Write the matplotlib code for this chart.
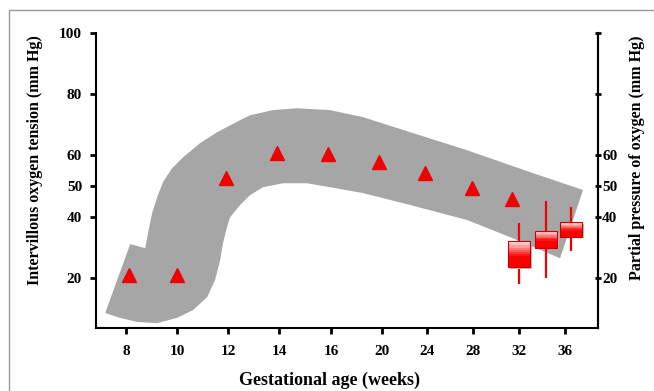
import numpy as np
import matplotlib

matplotlib.use("Agg")
import matplotlib.pyplot as plt
from matplotlib.patches import Rectangle

# --- data -------------------------------------------------------------------
WEEK_TICKS = [8, 10, 12, 14, 16, 20, 24, 28, 32, 36]
LEFT_TICKS = [20, 40, 50, 60, 80, 100]
RIGHT_TICKS = [20, 40, 50, 60, 80, 100]
RIGHT_LABELS = ["20", "40", "50", "60", "", ""]

# intervillous oxygen tension (triangles)
tri_weeks = [8.1, 10.0, 11.9, 13.9, 15.9, 19.8, 23.8, 27.9, 31.4]
tri_po2 = [21.0, 21.0, 52.6, 60.7, 60.6, 57.7, 54.3, 49.3, 45.9]

# partial pressure of oxygen (boxes + whiskers)
box_weeks = [32.0, 34.35, 36.55]
box_lo = [23.5, 29.9, 33.5]
box_hi = [32.0, 35.3, 38.2]
whisk_lo = [18.0, 19.9, 28.8]
whisk_hi = [37.9, 45.2, 43.2]

# grey band: upper/outer edge, then lower/inner edge back (weeks, mm Hg)
band_outer_weeks = [7.18, 8.16, 8.75, 8.86, 9.02, 9.22, 9.45, 9.80, 10.24,
                    10.90, 11.57, 12.47, 12.86, 13.76, 14.69, 15.96, 18.51,
                    22.49, 27.48, 33.22, 37.57]
band_outer_po2 = [8.5, 31.0, 29.7, 34.6, 41.1, 46.4, 51.3, 55.8, 59.4,
                  64.0, 67.6, 71.5, 73.1, 74.8, 75.4, 74.8, 72.5,
                  67.6, 61.7, 54.2, 48.7]
band_inner_weeks = [35.57, 31.22, 27.48, 22.49, 18.51, 15.96, 15.08, 14.15,
                    13.37, 12.86, 12.47, 12.08, 11.96, 11.80, 11.69, 11.49,
                    11.18, 10.63, 10.0, 9.22, 8.43, 7.76]
band_inner_po2 = [26.4, 33.3, 38.9, 43.8, 47.7, 49.6, 50.9, 50.9,
                  49.6, 47.0, 43.8, 39.8, 36.6, 31.3, 25.8, 19.3,
                  13.7, 9.5, 6.9, 5.2, 5.6, 6.9]

# tick spacing on the page (uneven in the original)
TICK_POS = [0, 51, 102, 153, 205, 256, 301, 347, 393, 439]
BOX_W = 1.9

RED = "#f00000"
FONT = "Liberation Serif"


def fwd(w):
    w = np.asarray(w, dtype=float)
    out = np.interp(w, WEEK_TICKS, TICK_POS)
    lo_slope = (TICK_POS[1] - TICK_POS[0]) / (WEEK_TICKS[1] - WEEK_TICKS[0])
    hi_slope = (TICK_POS[-1] - TICK_POS[-2]) / (WEEK_TICKS[-1] - WEEK_TICKS[-2])
    out = np.where(w < WEEK_TICKS[0], TICK_POS[0] + (w - WEEK_TICKS[0]) * lo_slope, out)
    out = np.where(w > WEEK_TICKS[-1], TICK_POS[-1] + (w - WEEK_TICKS[-1]) * hi_slope, out)
    return out


def inv(p):
    p = np.asarray(p, dtype=float)
    out = np.interp(p, TICK_POS, WEEK_TICKS)
    lo_slope = (WEEK_TICKS[1] - WEEK_TICKS[0]) / (TICK_POS[1] - TICK_POS[0])
    hi_slope = (WEEK_TICKS[-1] - WEEK_TICKS[-2]) / (TICK_POS[-1] - TICK_POS[-2])
    out = np.where(p < TICK_POS[0], WEEK_TICKS[0] + (p - TICK_POS[0]) * lo_slope, out)
    out = np.where(p > TICK_POS[-1], WEEK_TICKS[-1] + (p - TICK_POS[-1]) * hi_slope, out)
    return out


plt.rcParams["font.family"] = [FONT, "DejaVu Serif"]
plt.rcParams["font.weight"] = "bold"

fig = plt.figure(figsize=(6.54, 3.91), dpi=100)
ax = fig.add_axes([0.1468, 0.1611, 0.7676, 0.7545])
ax.set_xscale("function", functions=(fwd, inv))
ax.set_xlim(6.82, 38.87)
ax.set_ylim(3.6, 100)

# band
ax.fill(band_outer_weeks + band_inner_weeks, band_outer_po2 + band_inner_po2,
        color="#a6a6a6", lw=0, zorder=1)

# triangles
ax.plot(tri_weeks, tri_po2, "^", color=RED, ms=10, mec=RED, zorder=3)

# boxes with whiskers
for x, lo, hi, wl, wh in zip(box_weeks, box_lo, box_hi, whisk_lo, whisk_hi):
    ax.plot([x, x], [wl, wh], color=RED, lw=1.6, zorder=3, solid_capstyle="butt")
    x0 = x - BOX_W / 2
    # soft shadow
    ax.add_patch(Rectangle((x0 + 0.15, lo - 0.6), BOX_W, hi - lo,
                           facecolor="#bbbbbb", lw=0, zorder=3.5))
    n = 12
    h = (hi - lo) / n
    for i in range(n):
        t = i / (n - 1)  # 0 bottom, 1 top
        k = max(0.0, (t - 0.4) / 0.6)
        col = (1.0, 0.88 * k, 0.88 * k)
        ax.add_patch(Rectangle((x0, lo + i * h), BOX_W, h * 1.02,
                               facecolor=col, lw=0, zorder=4))
    ax.add_patch(Rectangle((x0, lo), BOX_W, hi - lo, facecolor="none",
                           edgecolor="#c80000", lw=0.8, zorder=4.5))

# axes styling
ax.spines["top"].set_visible(False)
for side in ["left", "bottom", "right"]:
    ax.spines[side].set_linewidth(1.5)

ax.set_xticks(WEEK_TICKS)
ax.set_xticklabels([str(w) for w in WEEK_TICKS])
ax.set_yticks(LEFT_TICKS)
ax.set_yticklabels([str(v) for v in LEFT_TICKS])
ax.minorticks_off()
ax.tick_params(axis="both", direction="out", length=4, width=2,
               labelsize=11, pad=6)
ax.tick_params(axis="x", pad=8)

ax2 = ax.twinx()
ax2.set_ylim(ax.get_ylim())
ax2.set_yticks(RIGHT_TICKS)
ax2.set_yticklabels(RIGHT_LABELS)
ax2.tick_params(axis="y", direction="inout", length=4, width=2,
                labelsize=11, pad=1)
for side in ["top", "left", "bottom"]:
    ax2.spines[side].set_visible(False)
ax2.spines["right"].set_linewidth(1.5)

ax.set_ylabel("Intervillous oxygen tension (mm Hg)", fontsize=11.5,
              fontweight="bold")
ax.yaxis.set_label_coords(-0.106, 0.57)
ax2.set_ylabel("Partial pressure of oxygen (mm Hg)", fontsize=11.5,
               fontweight="bold")
ax2.yaxis.set_label_coords(1.062, 0.578)
ax.set_xlabel("Gestational age (weeks)", fontsize=13, fontweight="bold")
ax.xaxis.set_label_coords(0.466, -0.148)

# grey frame around the panel
fig.add_artist(Rectangle((9 / 654, -0.05), 1.0, 1 - 10 / 391 + 0.05,
                         transform=fig.transFigure, fill=False,
                         edgecolor="#9a9a9a", lw=1.0))

fig.savefig("out.png", dpi=100)
